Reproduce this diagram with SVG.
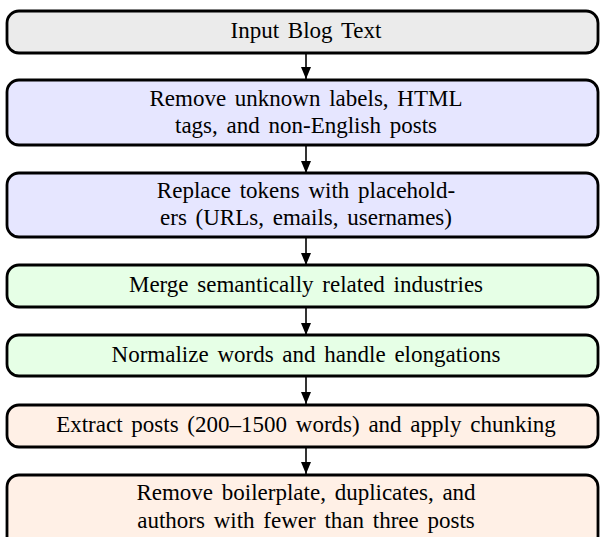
<svg xmlns="http://www.w3.org/2000/svg" width="600" height="537" viewBox="0 0 600 537">
<style>
.box{stroke:#000;stroke-width:2.8}
.g{fill:#ebebeb}.b{fill:#e6e6ff}.gr{fill:#e6ffe6}.o{fill:#fff0e6}
text{font-family:"Liberation Serif","Times New Roman",serif;font-size:23px;word-spacing:3px;fill:#000;text-anchor:middle}
.c{stroke:#000;stroke-width:1.6;fill:none}
</style>
<defs>
<marker id="ah" viewBox="0 0 12 10" refX="12" refY="5" markerWidth="12" markerHeight="10" markerUnits="userSpaceOnUse" orient="auto">
<path d="M0,0 L12,5 L0,10 Z" fill="#000"/>
</marker>
</defs>
<g id="connectors">
<line class="c" x1="306" y1="53" x2="306" y2="79" marker-end="url(#ah)"/>
<line class="c" x1="306" y1="145" x2="306" y2="173" marker-end="url(#ah)"/>
<line class="c" x1="306" y1="237" x2="306" y2="265" marker-end="url(#ah)"/>
<line class="c" x1="306" y1="307" x2="306" y2="335" marker-end="url(#ah)"/>
<line class="c" x1="306" y1="376" x2="306" y2="404" marker-end="url(#ah)"/>
<line class="c" x1="306" y1="447" x2="306" y2="474" marker-end="url(#ah)"/>
</g>
<g id="n1"><rect class="box g" x="7" y="11" width="591" height="42" rx="12"/><text x="306" y="38">Input Blog Text</text></g>
<g id="n2"><rect class="box b" x="7" y="80" width="591" height="65" rx="12"/><text x="306" y="106">Remove unknown labels, HTML</text><text x="306" y="133">tags, and non-English posts</text></g>
<g id="n3"><rect class="box b" x="7" y="173" width="591" height="64" rx="12"/><text x="306" y="198">Replace tokens with placehold-</text><text x="306" y="225">ers (URLs, emails, usernames)</text></g>
<g id="n4"><rect class="box gr" x="7" y="265" width="591" height="42" rx="12"/><text x="306" y="292">Merge semantically related industries</text></g>
<g id="n5"><rect class="box gr" x="7" y="335" width="591" height="41" rx="12"/><text x="306" y="362">Normalize words and handle elongations</text></g>
<g id="n6"><rect class="box o" x="7" y="405" width="591" height="42" rx="12"/><text x="306" y="432">Extract posts (200–1500 words) and apply chunking</text></g>
<g id="n7"><rect class="box o" x="7" y="475" width="591" height="80" rx="12"/><text x="306" y="500">Remove boilerplate, duplicates, and</text><text x="306" y="528">authors with fewer than three posts</text></g>
</svg>
